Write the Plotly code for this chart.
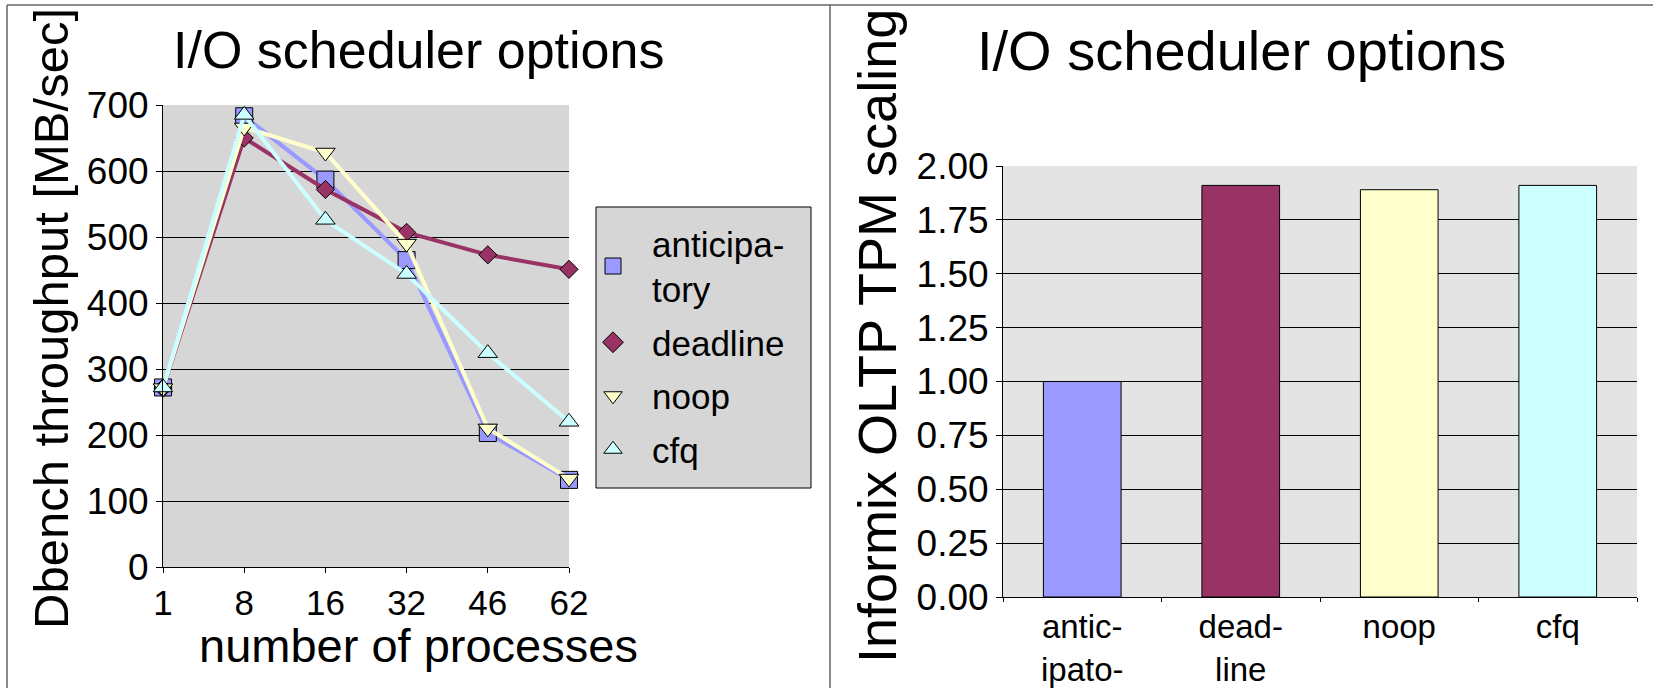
import plotly.graph_objects as go

# ---- data -------------------------------------------------------------
processes = ["1", "8", "16", "32", "46", "62"]
anticipatory = [272, 683, 587, 465, 203, 132]
deadline = [271, 650, 572, 507, 473, 451]
noop = [271, 666, 628, 490, 210, 134]
cfq = [272, 685, 526, 444, 324, 220]

schedulers = ["anticipatory", "deadline", "noop", "cfq"]
scheduler_labels = ["antic-<br>ipato-", "dead-<br>line", "noop", "cfq"]
tpm_scaling = [1.00, 1.91, 1.89, 1.91]

# ---- styling ----------------------------------------------------------
W, H = 1653, 688
FONT = "Liberation Sans, Arial, sans-serif"
colors = {"anticipatory": "#9999FF", "deadline": "#993366",
          "noop": "#FFFFCC", "cfq": "#CCFFFF"}
symbols = {"anticipatory": "square", "deadline": "diamond",
           "noop": "triangle-down", "cfq": "triangle-up"}
msizes = {"anticipatory": 17, "deadline": 14, "noop": 17, "cfq": 17}
legend_names = {"anticipatory": "anticipa-<br>tory", "deadline": "deadline",
                "noop": "noop", "cfq": "cfq"}


def px_x(x):
    return x / W


def px_y(y):
    return 1 - y / H


fig = go.Figure()

# left panel: throughput lines
series = {"anticipatory": anticipatory, "deadline": deadline,
          "noop": noop, "cfq": cfq}
for name in ["anticipatory", "deadline", "noop", "cfq"]:
    fig.add_trace(go.Scatter(
        x=processes, y=series[name], mode="lines+markers",
        line=dict(color=colors[name], width=4),
        marker=dict(symbol=symbols[name], size=msizes[name],
                    color=colors[name], line=dict(color="black", width=1)),
        cliponaxis=False, showlegend=False, xaxis="x", yaxis="y"))

# legend entries (markers only)
for name in ["anticipatory", "deadline", "noop", "cfq"]:
    fig.add_trace(go.Scatter(
        x=[None], y=[None], mode="markers", name=legend_names[name],
        legendgroup=name,
        marker=dict(symbol=symbols[name], size=16,
                    color=colors[name], line=dict(color="black", width=1)),
        xaxis="x", yaxis="y"))

# right panel: TPM scaling bars
fig.add_trace(go.Bar(
    x=schedulers, y=tpm_scaling, width=0.49,
    marker=dict(color=[colors[s] for s in schedulers],
                line=dict(color="black", width=1)),
    showlegend=False, xaxis="x2", yaxis="y2"))

tick_font = dict(family=FONT, size=37, color="black")

fig.update_layout(
    template="none",
    width=W, height=H,
    margin=dict(l=0, r=0, t=0, b=0, pad=0, autoexpand=False),
    paper_bgcolor="white",
    font=dict(family=FONT, color="black"),
    xaxis=dict(domain=[px_x(163), px_x(569)], anchor="y", automargin=False,
               type="category", range=[0, 5],
               showline=True, linecolor="black", linewidth=1,
               ticks="outside", ticklen=5, tickcolor="black",
               tickfont=dict(family=FONT, size=35, color="black"),
               showgrid=False, zeroline=False),
    yaxis=dict(domain=[px_y(567), px_y(105)], anchor="x", automargin=False,
               range=[0, 700], dtick=100,
               showline=True, linecolor="black", linewidth=1,
               ticks="outside", ticklen=6, tickcolor="black",
               tickfont=tick_font, showgrid=True, gridcolor="black",
               gridwidth=1, zeroline=False),
    xaxis2=dict(domain=[px_x(1003), px_x(1637)], anchor="y2",
                automargin=False,
                type="category", categoryorder="array",
                categoryarray=schedulers,
                tickvals=schedulers, ticktext=scheduler_labels,
                showline=True, linecolor="black", linewidth=1,
                ticks="outside", ticklen=4, tickcolor="black",
                tickson="boundaries",
                tickfont=dict(family=FONT, size=33, color="black"),
                showgrid=False, zeroline=False),
    yaxis2=dict(domain=[px_y(597), px_y(166)], anchor="x2",
                automargin=False,
                range=[0, 2], dtick=0.25, tickformat=".2f",
                showline=True, linecolor="black", linewidth=1,
                ticks="outside", ticklen=6, tickcolor="black",
                tickfont=tick_font, showgrid=True, gridcolor="black",
                gridwidth=1, zeroline=False),
    plot_bgcolor="rgba(0,0,0,0)",
    bargap=0.51,
    showlegend=True,
    legend=dict(x=px_x(574), y=px_y(214), xanchor="left", yanchor="top",
                bgcolor="rgba(0,0,0,0)", borderwidth=0,
                font=dict(family=FONT, size=35, color="black"),
                itemwidth=68, tracegroupgap=5, itemsizing="trace"),
)

shapes = [
    # plot area backgrounds
    dict(type="rect", xref="paper", yref="paper", layer="below",
         x0=px_x(163), x1=px_x(569), y0=px_y(567), y1=px_y(105),
         fillcolor="#D6D6D6", line=dict(width=0)),
    dict(type="rect", xref="paper", yref="paper", layer="below",
         x0=px_x(1003), x1=px_x(1637), y0=px_y(597), y1=px_y(166),
         fillcolor="#E4E4E4", line=dict(width=0)),
    # legend box
    dict(type="rect", xref="paper", yref="paper", layer="above",
         x0=px_x(596), x1=px_x(811), y0=px_y(488), y1=px_y(207),
         fillcolor="#D6D6D6", line=dict(color="black", width=1)),
    # panel frame
    dict(type="line", xref="paper", yref="paper",
         x0=px_x(7), x1=1, y0=px_y(5), y1=px_y(5),
         line=dict(color="#666666", width=1.5)),
    dict(type="line", xref="paper", yref="paper",
         x0=px_x(7), x1=px_x(7), y0=0, y1=px_y(5),
         line=dict(color="#666666", width=1.5)),
    dict(type="line", xref="paper", yref="paper",
         x0=px_x(830), x1=px_x(830), y0=0, y1=px_y(5),
         line=dict(color="#666666", width=1.5)),
]
fig.update_layout(shapes=shapes)

annotations = [
    dict(text="I/O scheduler options", x=px_x(418), y=px_y(50),
         font=dict(size=52)),
    dict(text="I/O scheduler options", x=px_x(1241), y=px_y(50),
         font=dict(size=56)),
    dict(text="number of processes", x=px_x(418), y=px_y(645),
         font=dict(size=47)),
    dict(text="Dbench throughput [MB/sec]", x=px_x(51), y=px_y(319),
         textangle=-90, font=dict(size=49)),
    dict(text="Informix OLTP TPM scaling", x=px_x(877), y=px_y(336),
         textangle=-90, font=dict(size=54)),
]
for a in annotations:
    a.update(xref="paper", yref="paper", showarrow=False,
             xanchor="center", yanchor="middle")
    a["font"].update(family=FONT, color="black")
fig.update_layout(annotations=annotations)

fig.write_html("out.html")
